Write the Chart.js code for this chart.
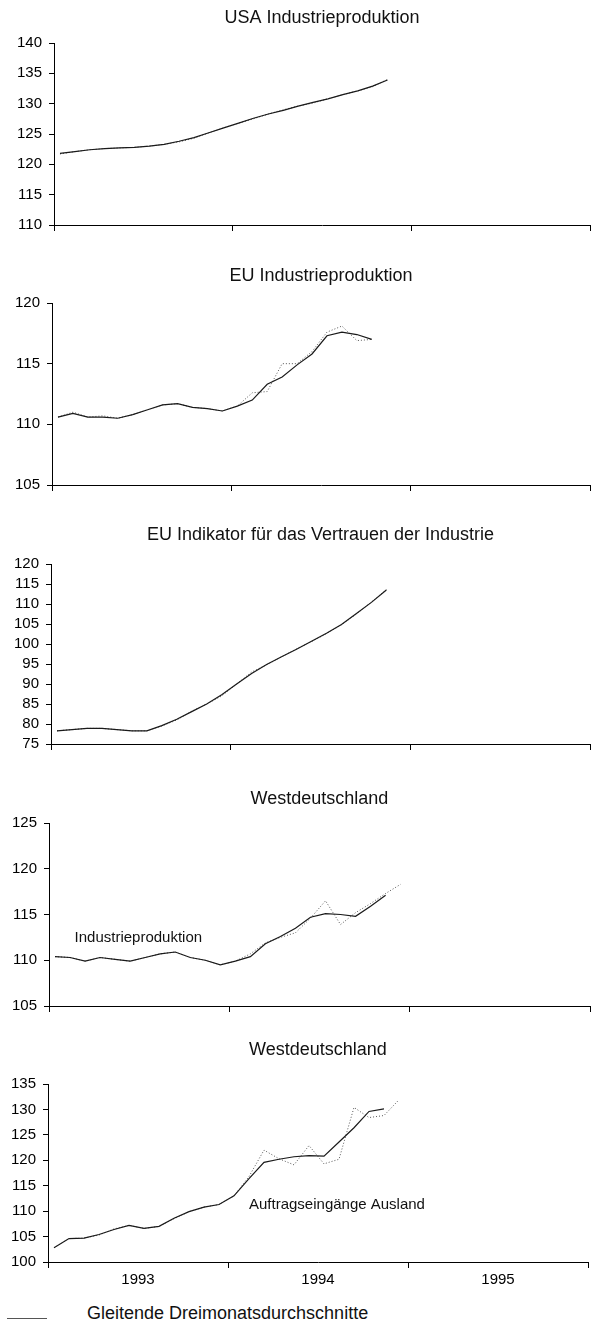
<!DOCTYPE html>
<html>
<head>
<meta charset="utf-8">
<script src="https://cdn.jsdelivr.net/npm/chart.js@4.4.1/dist/chart.umd.min.js"></script>
<style>
  body { margin: 0; width: 591px; height: 1331px; overflow: hidden; position: relative; background: #fff; font-family: "Liberation Sans", Arial, sans-serif; }
  canvas { position: absolute; left: 0; }
  #legend { position: absolute; left: 0; top: 1303px; height: 22px; width: 591px; }
  #legend .swatch { position: absolute; left: 7px; top: 15px; width: 40px; border-top: 1px solid #555; }
  #legend .text { position: absolute; left: 87px; top: 0; font-size: 18px; color: #111; white-space: nowrap; }
</style>
</head>
<body>
<canvas id="usaChart"></canvas>
<canvas id="euChart"></canvas>
<canvas id="confChart"></canvas>
<canvas id="wdIndChart"></canvas>
<canvas id="wdOrdChart"></canvas>
<div id="legend"><span class="swatch"></span><span class="text">Gleitende Dreimonatsdurchschnitte</span></div>
<script>
// months from Jan 1993
const years = ['1993', '1994', '1995'];

const usaMonthly = [121.7, 122.1, 122.4, 122.6, 122.7, 122.8, 123.0, 123.3, 123.7, 124.3, 125.2, 126.0, 126.8, 127.5, 128.3, 129.0, 129.6, 130.1, 130.8, 131.5, 132.1, 132.8, 134.0];
const usaAvg = [121.8, 122.1, 122.4, 122.6, 122.7, 122.8, 123.0, 123.3, 123.8, 124.4, 125.2, 126.0, 126.8, 127.6, 128.3, 128.9, 129.6, 130.2, 130.8, 131.5, 132.1, 132.9, 133.9];

const euMonthly = [110.6, 111.0, 110.6, 110.7, 110.5, 110.8, 111.2, 111.6, 111.7, 111.4, 111.3, 111.1, 111.5, 112.6, 112.7, 115.0, 115.0, 116.0, 117.6, 118.1, 116.9, 117.0];
const euAvg = [110.6, 110.9, 110.6, 110.6, 110.5, 110.8, 111.2, 111.6, 111.7, 111.4, 111.3, 111.1, 111.5, 112.0, 113.3, 113.9, 114.9, 115.8, 117.3, 117.6, 117.4, 117.0];

const confMonthly = [78.3, 78.6, 78.9, 78.9, 78.6, 78.3, 78.3, 79.5, 81.0, 83.2, 85.0, 87.0, 90.0, 93.0, 94.8, 96.8, 98.8, 100.6, 102.6, 104.8, 107.5, 110.5, 113.6];
const confAvg = [78.3, 78.6, 78.9, 78.9, 78.6, 78.3, 78.3, 79.6, 81.2, 83.1, 85.0, 87.3, 90.0, 92.6, 94.9, 96.8, 98.7, 100.7, 102.7, 104.9, 107.6, 110.4, 113.5];

const wdIndMonthly = [110.4, 110.3, 109.9, 110.3, 110.1, 109.9, 110.3, 110.7, 110.9, 110.3, 110.0, 109.5, 109.9, 110.7, 111.9, 112.5, 113.0, 114.6, 116.5, 113.9, 115.2, 116.2, 117.3, 118.3];
const wdIndAvg = [110.4, 110.3, 109.9, 110.3, 110.1, 109.9, 110.3, 110.7, 110.9, 110.3, 110.0, 109.5, 109.9, 110.4, 111.8, 112.6, 113.5, 114.7, 115.1, 115.0, 114.8, 115.9, 117.1];

const wdOrdMonthly = [102.8, 104.6, 104.7, 105.3, 106.5, 107.2, 106.6, 107.0, 108.5, 109.9, 110.8, 111.3, 113.0, 116.8, 122.0, 120.3, 119.1, 122.9, 119.3, 120.2, 130.4, 128.4, 128.8, 131.9];
const wdOrdAvg = [102.8, 104.6, 104.7, 105.4, 106.4, 107.2, 106.6, 107.0, 108.6, 109.9, 110.8, 111.3, 113.0, 116.4, 119.6, 120.2, 120.7, 120.9, 120.8, 123.6, 126.4, 129.6, 130.1];

const FONT = '"Liberation Sans", Arial, sans-serif';
Chart.defaults.color = '#000';
Chart.defaults.font.family = FONT;

// panel heading centred over the plot area, plus an optional text next to a curve
const panelText = {
    id: 'panelText',
    afterDatasetsDraw(chart, args, opts) {
        const { ctx, scales, chartArea } = chart;
        ctx.save();
        ctx.fillStyle = '#111';
        ctx.textBaseline = 'middle';
        if (opts.title) {
            ctx.font = '18px ' + FONT;
            ctx.textAlign = 'center';
            ctx.fillText(opts.title, (chartArea.left + chartArea.right) / 2, opts.titleY);
        }
        if (opts.text) {
            ctx.font = '15px ' + FONT;
            ctx.textAlign = 'left';
            ctx.fillText(opts.text, scales.x.getPixelForValue(opts.x), scales.y.getPixelForValue(opts.y));
        }
        ctx.restore();
    }
};

function points(values) {
    return values.map((v, i) => ({ x: i + 0.4, y: v }));
}

function makePanel(id, p) {
    const canvas = document.getElementById(id);
    canvas.width = 591;
    canvas.height = p.height;
    canvas.style.top = p.top + 'px';
    const label = p.label || {};
    new Chart(canvas.getContext('2d'), {
        type: 'line',
        data: {
            datasets: [
                {
                    data: points(p.avg),
                    borderColor: '#1a1a1a',
                    borderWidth: 1.2,
                    pointRadius: 0,
                    tension: 0,
                },
                {
                    data: points(p.monthly),
                    borderColor: '#555',
                    borderWidth: 1,
                    borderDash: [1, 2],
                    pointRadius: 0,
                    tension: 0,
                },
            ],
        },
        plugins: [panelText],
        options: {
            responsive: false,
            animation: false,
            events: [],
            layout: { padding: { left: 0, right: 1, top: p.plotTop - p.top, bottom: 0 } },
            plugins: {
                legend: { display: false },
                tooltip: { enabled: false },
                panelText: {
                    title: p.title,
                    titleY: p.titleY - p.top,
                    text: label.text,
                    x: label.x,
                    y: label.y,
                },
            },
            scales: {
                x: {
                    type: 'linear',
                    min: 0,
                    max: 36,
                    afterBuildTicks: (scale) => {
                        scale.ticks = [0, 6, 12, 18, 24, 30, 36].map((v) => ({ value: v }));
                    },
                    afterFit: (scale) => { scale.height = p.xHeight; },
                    border: { display: true, color: '#000', width: 1 },
                    grid: {
                        drawOnChartArea: false,
                        tickLength: 6,
                        color: (c) => (c.tick && c.tick.value % 12 === 0 ? '#000' : 'rgba(0,0,0,0)'),
                    },
                    ticks: {
                        display: p.showYears,
                        autoSkip: false,
                        maxRotation: 0,
                        padding: 3,
                        font: { size: 15 },
                        callback: (v) => (v % 12 === 6 ? years[(v - 6) / 12] : ''),
                    },
                },
                y: {
                    min: p.min,
                    max: p.max,
                    afterFit: (scale) => { scale.width = p.left; },
                    border: { display: true, color: '#000', width: 1 },
                    grid: { drawOnChartArea: false, tickLength: 5, color: '#000' },
                    ticks: { stepSize: 5, autoSkip: false, padding: 7, font: { size: 15 } },
                },
            },
        },
    });
}

makePanel('usaChart', {
    title: 'USA Industrieproduktion', top: 0, height: 241, titleY: 18, plotTop: 43,
    left: 54, xHeight: 12, min: 110, max: 140, monthly: usaMonthly, avg: usaAvg, showYears: false,
});
makePanel('euChart', {
    title: 'EU Industrieproduktion', top: 260, height: 241, titleY: 276, plotTop: 303,
    left: 52, xHeight: 12, min: 105, max: 120, monthly: euMonthly, avg: euAvg, showYears: false,
});
makePanel('confChart', {
    title: 'EU Indikator für das Vertrauen der Industrie', top: 519, height: 241, titleY: 535, plotTop: 564,
    left: 51, xHeight: 12, min: 75, max: 120, monthly: confMonthly, avg: confAvg, showYears: false,
});
makePanel('wdIndChart', {
    title: 'Westdeutschland', top: 783, height: 239, titleY: 799, plotTop: 823,
    left: 49, xHeight: 12, min: 105, max: 125, monthly: wdIndMonthly, avg: wdIndAvg, showYears: false,
    label: { text: 'Industrieproduktion', x: 1.7, y: 112.4 },
});
makePanel('wdOrdChart', {
    title: 'Westdeutschland', top: 1034, height: 258, titleY: 1050, plotTop: 1084,
    left: 48, xHeight: 30, min: 100, max: 135, monthly: wdOrdMonthly, avg: wdOrdAvg, showYears: true,
    label: { text: 'Auftragseingänge Ausland', x: 13.4, y: 111.2 },
});
</script>
</body>
</html>
